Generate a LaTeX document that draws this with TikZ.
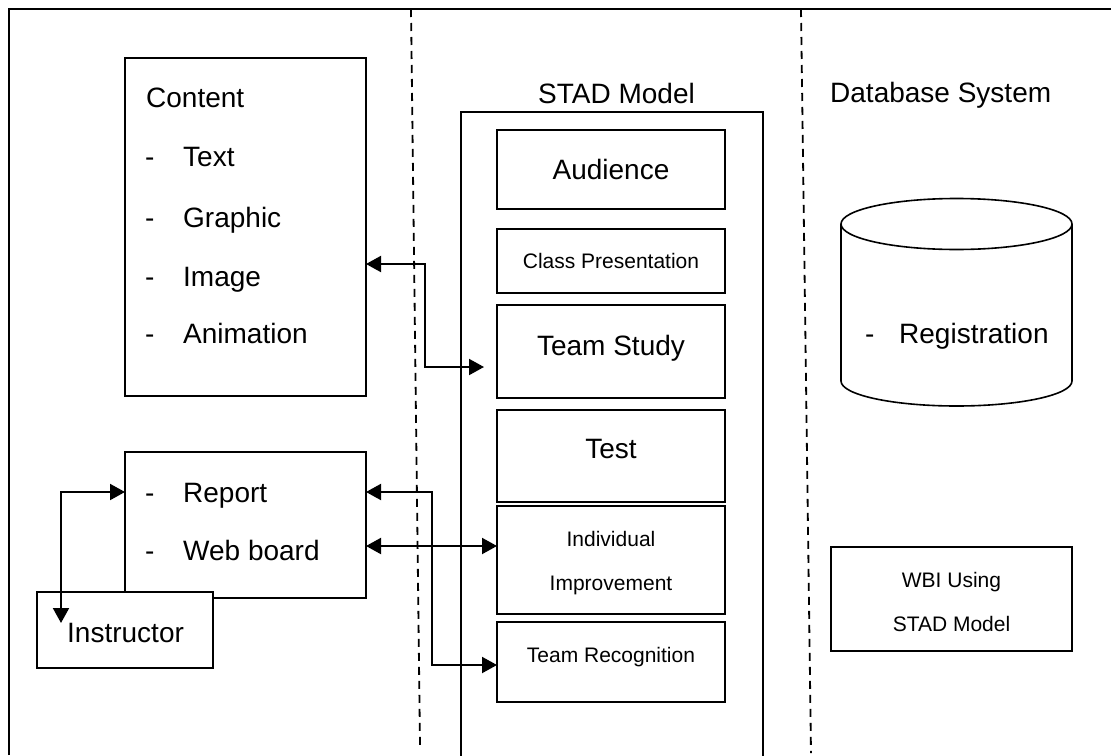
\documentclass[tikz,border=0pt]{standalone}
\usepackage{fontspec}
\setmainfont{Liberation Sans}
\usetikzlibrary{arrows.meta}
\begin{document}
\begin{tikzpicture}[x=1pt,y=-1pt,
  box/.style={draw, line width=2pt, fill=white, inner sep=0pt, outer sep=0pt},
  big/.style={font=\fontsize{28}{32}\selectfont, inner sep=0pt},
  small/.style={font=\fontsize{21}{25}\selectfont, inner sep=0pt},
  divider/.style={line width=1.8pt, dash pattern=on 8pt off 6pt},
  conn/.style={line width=2pt, {Triangle[length=15pt,width=16pt]}-{Triangle[length=15pt,width=16pt]}}
]
\useasboundingbox (0,0) rectangle (1111,755);
% frame
\draw[line width=1.8pt] (9,755) -- (9,9) -- (1111,9);
% dividers
\coordinate (d1t) at (411,9); \coordinate (d1b) at (420,745);
\coordinate (d2t) at (801,9); \coordinate (d2b) at (811,753);
\draw[divider] (d1t) -- (d1b);
\draw[divider] (d2t) -- (d2b);

% Content box
\node[box, minimum width=241pt, minimum height=338pt] (content) at (245.5,227) {};
\node[big, anchor=base west] (ct) at (146,107) {Content};
\node[big, anchor=base west] (c1d) at (145,166) {-};
\node[big, anchor=base west] (c1) at (183,166) {Text};
\node[big, anchor=base west] (c2d) at (145,227) {-};
\node[big, anchor=base west] (c2) at (183,227) {Graphic};
\node[big, anchor=base west] (c3d) at (145,286) {-};
\node[big, anchor=base west] (c3) at (183,286) {Image};
\node[big, anchor=base west] (c4d) at (145,343) {-};
\node[big, anchor=base west] (c4) at (183,343) {Animation};

% Report box
\node[box, minimum width=241pt, minimum height=146pt] (report) at (245.5,525) {};
\node[big, anchor=base west] (r1d) at (145,502) {-};
\node[big, anchor=base west] (r1) at (183,502) {Report};
\node[big, anchor=base west] (r2d) at (145,560) {-};
\node[big, anchor=base west] (r2) at (183,560) {Web board};

% Instructor
\node[box, minimum width=176pt, minimum height=76pt] (instr) at (125,630) {};
\node[big, anchor=base west] (instrt) at (67,642) {Instructor};

% STAD model
\node[big, anchor=base] (stadt) at (616.5,103) {STAD Model};
\draw[line width=2pt] (461,760) -- (461,112) -- (763,112) -- (763,760);
\node[box, minimum width=228pt, minimum height=79pt] (aud) at (611,169.5) {};
\node[big, anchor=base] (audt) at (611,179) {Audience};
\node[box, minimum width=228pt, minimum height=64pt] (cls) at (611,261) {};
\node[small, anchor=base] (clst) at (611,268) {Class Presentation};
\node[box, minimum width=228pt, minimum height=93pt] (ts) at (611,351.5) {};
\node[big, anchor=base] (tst) at (611,355) {Team Study};
\node[box, minimum width=228pt, minimum height=92pt] (test) at (611,456) {};
\node[big, anchor=base] (testt) at (611,458) {Test};
\node[box, minimum width=228pt, minimum height=108pt] (indiv) at (611,560) {};
\node[small, anchor=base] (indt1) at (611,546) {Individual};
\node[small, anchor=base] (indt2) at (611,590) {Improvement};
\node[box, minimum width=228pt, minimum height=80pt] (trec) at (611,662) {};
\node[small, anchor=base] (trect) at (611,662) {Team Recognition};

% Database
\node[big, anchor=base west] (dbt) at (830,102) {Database System};
\coordinate (cyl) at (956.5,224);
\draw[line width=1.6pt] (cyl) ellipse [x radius=115.5, y radius=25.5];
\draw[line width=1.6pt] (841,224) -- (841,381) arc[start angle=180, end angle=0, x radius=115.5, y radius=25] -- (1072,224);
\node[big, anchor=base west] (regd) at (865,343) {-};
\node[big, anchor=base west] (reg) at (899,343) {Registration};

\node[box, minimum width=241pt, minimum height=104pt] (wbi) at (951.5,599) {};
\node[small, anchor=base] (wbi1) at (951.5,587) {WBI Using};
\node[small, anchor=base] (wbi2) at (951.5,631) {STAD Model};

% connectors
\draw[conn, shorten >=13pt] (content.east |- 0,264) -- (425,264) -- (425,367) -- (ts.west |- 0,367);
\draw[conn] (report.east |- 0,492) -- (432,492) -- (432,665) -- (trec.west |- 0,665);
\draw[conn] (report.east |- 0,546) -- (indiv.west |- 0,546);
\draw[conn] (report.west |- 0,492) -- (61,492) -- (61,623);
\end{tikzpicture}
\end{document}
